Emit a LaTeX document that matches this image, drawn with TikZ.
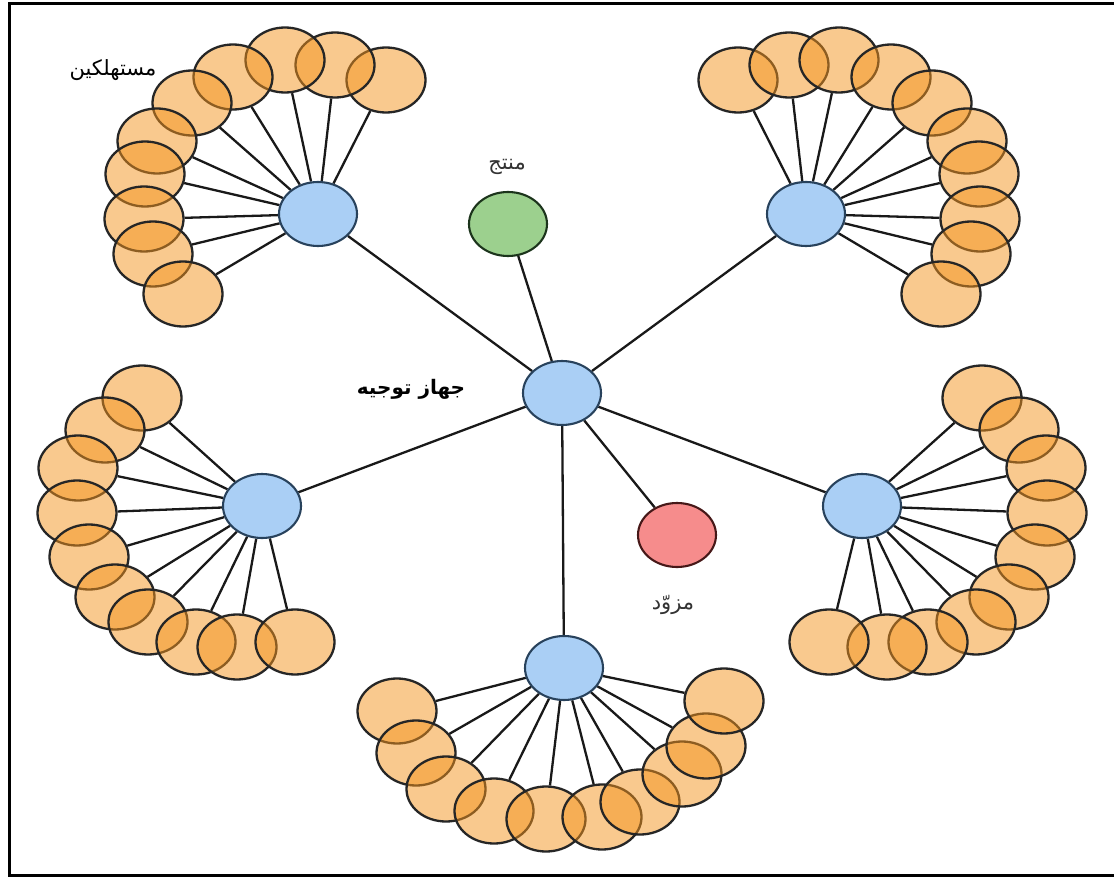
\documentclass[tikz,border=0pt]{standalone}
\usepackage{fontspec}
\usetikzlibrary{shapes.geometric,backgrounds}
\TeXXeTstate=1
\newfontfamily\arabicfont[Script=Arabic]{DejaVu Sans}
\definecolor{consfill}{RGB}{245,148,30}
\definecolor{hubfill}{RGB}{170,207,245}
\definecolor{hubline}{RGB}{40,66,92}
\definecolor{prodfill}{RGB}{156,208,142}
\definecolor{prodline}{RGB}{28,52,28}
\definecolor{supfill}{RGB}{246,140,140}
\definecolor{supline}{RGB}{70,24,24}
\tikzset{
  cons/.style={ellipse, draw=black!85, line width=2.3pt, fill=consfill, fill opacity=0.5,
    minimum width=79pt, minimum height=65pt, inner sep=0pt},
  hub/.style={ellipse, draw=hubline, line width=2.1pt, fill=hubfill,
    minimum width=78pt, minimum height=64pt, inner sep=0pt},
  prod/.style={hub, draw=prodline, fill=prodfill},
  sup/.style={hub, draw=supline, fill=supfill},
  link/.style={line width=2.3pt, black!90},
  lbl/.style={inner sep=0pt, font=\arabicfont\fontsize{21}{24}\selectfont},
}
\begin{document}
\begin{tikzpicture}[x=1pt,y=-1pt]
\useasboundingbox (0,0) rectangle (1114,877);

% hubs
\node[hub] (c) at (562,393) {};
\node[hub] (htl) at (318,214) {};
\node[hub] (htr) at (806,214) {};
\node[hub] (hl) at (262,506) {};
\node[hub] (hr) at (862,506) {};
\node[hub] (hb) at (564,668) {};
\node[prod] (p) at (508,224) {};
\node[sup] (s) at (677,535) {};

% consumers
\foreach \x/\y [count=\i] in {386/80,335/65,285/60,233/77,192/103,157/141,145/174,144/219,153/254,183/294}
  \node[cons] (tl\i) at (\x,\y) {};
\foreach \x/\y [count=\i] in {738/80,789/65,839/60,891/77,932/103,967/141,979/174,980/219,971/254,941/294}
  \node[cons] (tr\i) at (\x,\y) {};
\foreach \x/\y [count=\i] in {142/398,105/430,78/468,77/513,89/557,115/597,148/622,196/642,237/647,295/642}
  \node[cons] (l\i) at (\x,\y) {};
\foreach \x/\y [count=\i] in {982/398,1019/430,1046/468,1047/513,1035/557,1009/597,976/622,928/642,887/647,829/642}
  \node[cons] (r\i) at (\x,\y) {};
\foreach \x/\y [count=\i] in {397/711,416/753,446/789,494/811,546/819,602/817,640/802,682/774,706/746,724/701}
  \node[cons] (b\i) at (\x,\y) {};

% links and frame
\begin{pgfonlayer}{background}
\fill[white] (0,0) rectangle (1114,877);
\draw[line width=3pt] (1120,3.5) -- (9,3.5) -- (9,875.5) -- (1120,875.5);
\foreach \i in {1,...,10} {
  \draw[link] (htl) -- (tl\i);
  \draw[link] (htr) -- (tr\i);
  \draw[link] (hl) -- (l\i);
  \draw[link] (hr) -- (r\i);
  \draw[link] (hb) -- (b\i);
}
\foreach \n in {htl,htr,hl,hr,hb,p,s}
  \draw[link] (c) -- (\n);
\end{pgfonlayer}

% labels
\node[lbl] (tcons) at (113,70) {\beginR مستهلكين\endR};
\node[lbl, text=black!80] (tprod) at (507,167) {\beginR منتج\endR};
\node[lbl, font=\arabicfont\bfseries\fontsize{20}{24}\selectfont] (trouter) at (411,389) {\beginR جهاز توجيه\endR};
\node[lbl, text=black!80] (tsup) at (673,605) {\beginR مزوّد\endR};
\end{tikzpicture}
\end{document}
